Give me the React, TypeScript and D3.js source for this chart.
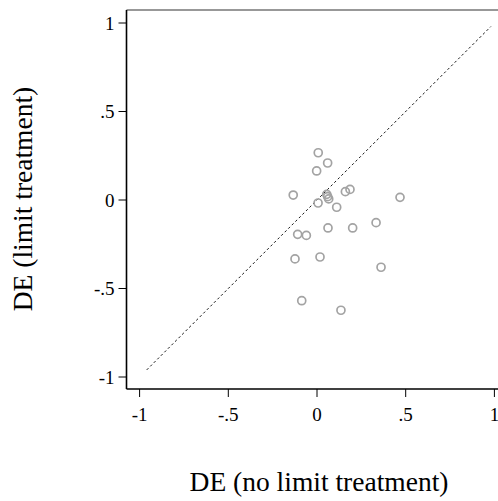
import React from "react";
import * as d3 from "d3";

const noLimit = [0.007, 0.06, -0.002, -0.134, 0.055, 0.06, 0.066, 0.16, 0.186, 0.468, 0.006, 0.111, 0.062, 0.201, 0.333, -0.109, -0.06, -0.124, 0.017, 0.361, -0.086, 0.135];
const limit = [0.267, 0.209, 0.164, 0.028, 0.032, 0.019, 0.006, 0.047, 0.06, 0.015, -0.017, -0.041, -0.158, -0.158, -0.128, -0.194, -0.2, -0.333, -0.322, -0.38, -0.569, -0.623];
const tickValues = [-1, -0.5, 0, 0.5, 1];
const tickLabels = ["-1", "-.5", "0", ".5", "1"];
const diagonal = [-0.96, 0.98];

const W = 498;
const H = 501;
const font = "'Liberation Serif', 'Times New Roman', serif";

export default function App() {
  const x = d3.scaleLinear().domain([0, 0.5]).range([317, 405.7]);
  const y = d3.scaleLinear().domain([0, 0.5]).range([200, 111.5]);
  const left = 126.5;
  const top = 10;
  const bottom = 389;
  const right = 499;

  return (
    <svg width={W} height={H} style={{ position: "absolute", left: 0, top: 0, background: "#fff" }}>
      <rect x={0} y={0} width={W} height={H} fill="#fff" />
      {/* plot region frame */}
      <line x1={left} x2={right} y1={top} y2={top} stroke="#333" strokeWidth={1.2} />
      <line x1={left} x2={left} y1={top} y2={bottom} stroke="#000" strokeWidth={1.6} />
      <line x1={left} x2={right} y1={bottom} y2={bottom} stroke="#000" strokeWidth={1.6} />

      {/* 45 degree line */}
      <line
        x1={x(diagonal[0])}
        y1={y(diagonal[0])}
        x2={x(diagonal[1])}
        y2={y(diagonal[1])}
        stroke="#000"
        strokeWidth={0.9}
        strokeDasharray="2.5,2.5"
      />

      {noLimit.map((v, i) => (
        <circle key={i} cx={x(v)} cy={y(limit[i])} r={4} fill="none" stroke="#a3a3a3" strokeWidth={1.7} />
      ))}

      {/* y axis ticks */}
      {tickValues.map((t, i) => (
        <g key={"y" + i}>
          <line x1={left - 8} x2={left} y1={y(t)} y2={y(t)} stroke="#000" strokeWidth={1} />
          <text x={left - 12} y={y(t)} dy="0.35em" textAnchor="end" fontFamily={font} fontSize={19}>
            {tickLabels[i]}
          </text>
        </g>
      ))}

      {/* x axis ticks */}
      {tickValues.map((t, i) => (
        <g key={"x" + i}>
          <line x1={x(t)} x2={x(t)} y1={bottom} y2={bottom + 8} stroke="#000" strokeWidth={1} />
          <text x={x(t)} y={bottom + 32} textAnchor="middle" fontFamily={font} fontSize={19}>
            {tickLabels[i]}
          </text>
        </g>
      ))}

      <text
        transform={`translate(32,199) rotate(-90)`}
        textAnchor="middle"
        fontFamily={font}
        fontSize={27.5}
      >
        DE (limit treatment)
      </text>
      <text x={319} y={491} textAnchor="middle" fontFamily={font} fontSize={27.5}>
        DE (no limit treatment)
      </text>
    </svg>
  );
}
